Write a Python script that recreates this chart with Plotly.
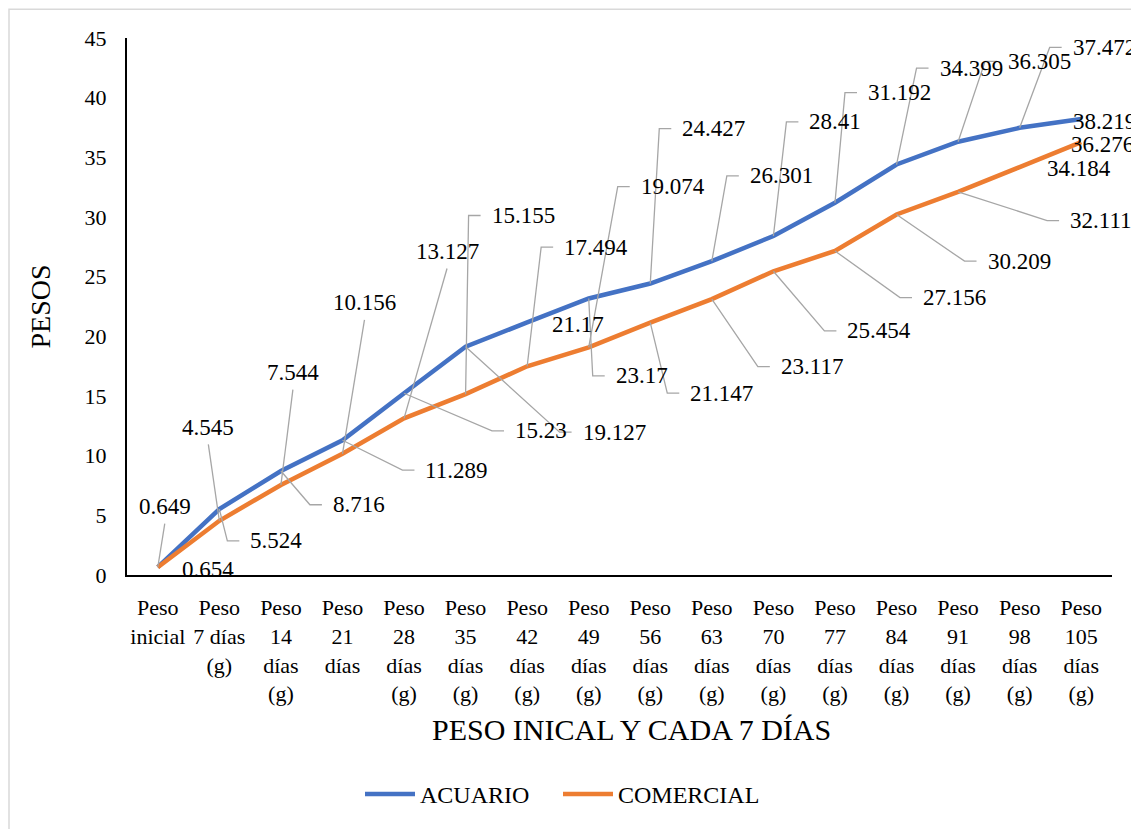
import plotly.graph_objects as go

# ---------------- data ----------------
categories = [
    "Peso<br>inicial", "Peso<br>7 días<br>(g)", "Peso<br>14<br>días<br>(g)", "Peso<br>21<br>días",
    "Peso<br>28<br>días<br>(g)", "Peso<br>35<br>días<br>(g)", "Peso<br>42<br>días<br>(g)",
    "Peso<br>49<br>días<br>(g)", "Peso<br>56<br>días<br>(g)", "Peso<br>63<br>días<br>(g)",
    "Peso<br>70<br>días<br>(g)", "Peso<br>77<br>días<br>(g)", "Peso<br>84<br>días<br>(g)",
    "Peso<br>91<br>días<br>(g)", "Peso<br>98<br>días<br>(g)", "Peso<br>105<br>días<br>(g)",
]
acuario = [0.654, 5.524, 8.716, 11.289, 15.23, 19.127, 21.17, 23.17, 24.427, 26.301,
           28.41, 31.192, 34.399, 36.305, 37.472, 38.219]
comercial = [0.649, 4.545, 7.544, 10.156, 13.127, 15.155, 17.494, 19.074, 21.147, 23.117,
             25.454, 27.156, 30.209, 32.111, 34.184, 36.276]
y_ticks = [0, 5, 10, 15, 20, 25, 30, 35, 40, 45]
x_title = "PESO INICAL Y CADA 7 DÍAS"
y_title = "PESOS"

# ---------------- layout / label placement (pixel offsets from each point) ----------------
# page body adds an 8px margin, so the figure is sized to the visible area
W, H = 1131, 821
ML, MR, MT, MB = 119, 27, 30, 250
PW, PH = W - ML - MR, H - MT - MB
PX_PER_CAT = PW / len(categories)
PX_PER_UNIT = PH / 45.0

# kind: 'up' = centered above with straight leader, 'side' = left-anchored with elbow leader, 'none'
com_lbl_dx = [7, -11, 12, 22, 43, 24, 35, 50, 38, 67, 72, 86, 89, 110, 25, -12]
com_lbl_dy = [-61, -94, -113, -152, -168, -180, -120, -162, 71, 68, 60, 47, 47, 29, 1, 2]
com_lbl_kind = ["up", "up", "up", "up", "up", "side", "side", "side", "side", "side",
                "side", "side", "side", "side", "none", "none"]
acu_lbl_dx = [22, 29, 50, 81, 109, 115, 23, 25, 30, 36, 34, 31, 41, 48, 51, -10]
acu_lbl_dy = [2, 32, 34, 30, 38, 86, 2, 78, -156, -86, -115, -111, -97, -81, -81, 3]
acu_lbl_kind = ["none", "side", "side", "side", "side", "side", "none", "side", "side", "side",
                "side", "side", "side", "side", "side", "none"]

FONT = "Liberation Serif"
BLUE = "#4472C4"
ORANGE = "#ED7D31"
LEADER = "#A6A6A6"

fig = go.Figure()
xs = list(range(len(categories)))
fig.add_trace(go.Scatter(x=xs, y=acuario, mode="lines", name="ACUARIO",
                         line=dict(color=BLUE, width=4.5), legend="legend"))
fig.add_trace(go.Scatter(x=xs, y=comercial, mode="lines", name="COMERCIAL",
                         line=dict(color=ORANGE, width=4.5), legend="legend2"))

annotations = []
lead_x, lead_y = [], []


def add_labels(vals, dxs, dys, kinds):
    for i, (v, dx, dy, k) in enumerate(zip(vals, dxs, dys, kinds)):
        lx = i + dx / PX_PER_CAT
        ly = v - dy / PX_PER_UNIT
        annotations.append(dict(
            x=lx, y=ly, xref="x", yref="y", text=f"{v:g}",
            xanchor="center" if k == "up" else "left", yanchor="middle",
            showarrow=False, font=dict(family=FONT, size=23, color="#000000")))
        if k == "up":
            lead_x.extend([i, lx, None])
            lead_y.extend([v, ly - 17 / PX_PER_UNIT, None])
        elif k == "side":
            ex = i + (dx - 21) / PX_PER_CAT
            hx = i + (dx - 9) / PX_PER_CAT
            lead_x.extend([i, ex, hx, None])
            lead_y.extend([v, ly, ly, None])


add_labels(comercial, com_lbl_dx, com_lbl_dy, com_lbl_kind)
add_labels(acuario, acu_lbl_dx, acu_lbl_dy, acu_lbl_kind)

fig.add_trace(go.Scatter(x=lead_x, y=lead_y, mode="lines", showlegend=False, hoverinfo="skip",
                         line=dict(color=LEADER, width=1.3)))

# x axis title (slightly right of the plot centre, as in the original)
annotations.append(dict(text=x_title, xref="paper", yref="paper",
                        x=(623 - ML) / PW, y=-(727 - MT - PH) / PH,
                        xanchor="center", yanchor="middle", showarrow=False,
                        font=dict(family=FONT, size=30, color="#000000")))

# chart-area border (light gray) along the figure edge
fig.add_shape(type="rect", xref="paper", yref="paper",
              x0=(1 - ML) / PW, x1=(W + 10 - ML) / PW,
              y0=-(H + 10 - MT - PH) / PH, y1=1 + (MT - 1) / PH,
              line=dict(color="#D9D9D9", width=1.5), fillcolor="rgba(0,0,0,0)", layer="below")

legend_common = dict(orientation="h", xanchor="left", yanchor="middle",
                     y=-(792 - MT - PH) / PH,
                     font=dict(family=FONT, size=24, color="#000000"),
                     itemwidth=50, bgcolor="rgba(0,0,0,0)")

fig.update_layout(
    width=W, height=H,
    margin=dict(l=ML, r=MR, t=MT, b=MB),
    paper_bgcolor="white", plot_bgcolor="white",
    font=dict(family=FONT, size=22, color="#000000"),
    annotations=annotations,
    showlegend=True,
    legend=dict(x=(352 - ML) / PW, **legend_common),
    legend2=dict(x=(550 - ML) / PW, **legend_common),
    xaxis=dict(range=[-0.5, len(categories) - 0.5], tickmode="array", tickvals=xs,
               ticktext=categories, showgrid=False, zeroline=False, showline=True,
               linecolor="#000000", linewidth=2, ticks="", ticklabelstandoff=12,
               tickfont=dict(family=FONT, size=22, color="#000000")),
    yaxis=dict(range=[0, 45], tickmode="array", tickvals=y_ticks, showgrid=False,
               zeroline=False, showline=True, linecolor="#000000", linewidth=2,
               ticks="", ticklabelstandoff=14,
               tickfont=dict(family=FONT, size=22, color="#000000"),
               title=dict(text=y_title, standoff=26,
                          font=dict(family=FONT, size=28, color="#000000"))),
)

fig.write_html("out.html")
